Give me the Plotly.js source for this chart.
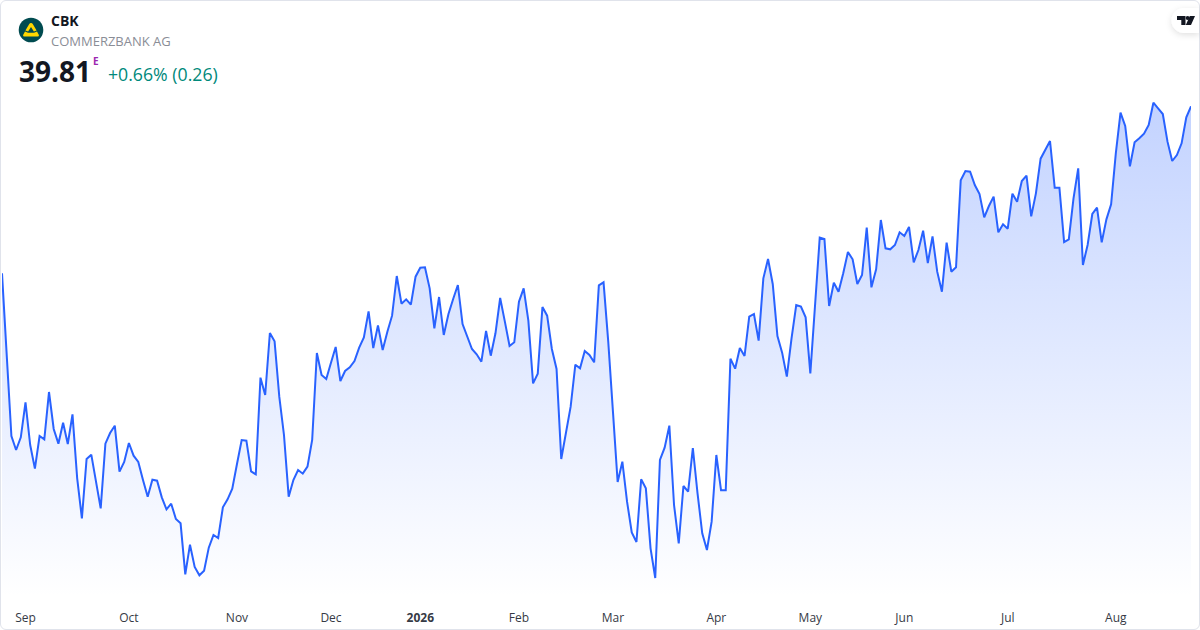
<!DOCTYPE html>
<html>
<head>
<meta charset="utf-8">
<script src="https://cdn.plot.ly/plotly-3.0.1.min.js"></script>
<style>
html,body{margin:0;padding:0;background:#fff;width:1200px;height:630px;overflow:hidden}
#card{position:absolute;left:0;top:0;width:1198px;height:628px;border:1px solid #e0e3eb;border-radius:6px;overflow:hidden}
#chart{position:absolute;left:0;top:0;width:1200px;height:630px}
svg.deco{position:absolute;left:0;top:0;pointer-events:none}
</style>
</head>
<body>
<div id="card"></div>
<div id="chart"></div>
<svg class="deco" width="1200" height="630" xmlns="http://www.w3.org/2000/svg">
  <defs><filter id="sh" x="-40%" y="-40%" width="180%" height="200%"><feDropShadow dx="0" dy="2" stdDeviation="3" flood-color="#000" flood-opacity="0.12"/></filter></defs>
  <circle cx="31" cy="30" r="12.3" fill="#004B50"/>
  <path d="M31 23 Q32.2 23 32.9 24.2 L36.6 30.4 L33.9 31.5 L31 27 L28.1 31.5 L25.4 30.4 L29.1 24.2 Q29.8 23 31 23 Z" fill="#FFD700"/>
  <path d="M25 31.5 L28 32.7 L34 32.7 L37 31.5 L38.9 34.9 Q39.3 36.6 37.6 36.6 L24.4 36.6 Q22.7 36.6 23.1 34.9 Z" fill="#FFD700"/>
  <path d="M1199 8 L1184 8 A12.5 12.5 0 0 0 1184 33 L1199 33 Z" fill="#fff" filter="url(#sh)"/>
  <path d="M1177 16 H1185.5 V25 H1181.3 V20 H1177 Z M1189.8 16 H1195 L1191 25 H1185.8 Z" fill="#131722"/>
  <circle cx="1187.6" cy="18" r="2" fill="#131722"/>
</svg>
<script>
const sessionIndex = Array.from({length: 254}, (_, i) => i);
const closeA = [34.80,32.30,29.92,29.50,29.88,30.93,29.65,28.94,29.92,29.82,31.24,30.13,29.69,30.32,29.68,30.57,28.65,27.45,29.23,29.36,28.55,27.75,29.69,30.01,30.23,28.85,29.14,29.71,29.33,29.14,28.60,28.10,28.61,28.58,28.08,27.72,27.89,27.43,27.30,25.77,26.66,25.99,25.74,25.88,26.57,26.95,26.86,27.78,28.02,28.34,29.08,29.80,29.78,28.86,28.77,31.67,31.15,33.01,32.76,31.10,29.95,28.10,28.60,28.90];
const closeB = [28.79,29.00,29.80,32.41,31.75,31.63,32.12,32.59,31.57,31.87,31.98,32.17,32.57,32.88,33.66,32.56,33.24,32.50,33.05,33.53,34.72,33.89,34.02,33.86,34.70,34.97,34.98,34.35,33.15,34.09,32.95,33.58,34.03,34.45,33.28,32.88,32.53,32.37,32.15,33.07,32.33,33.00,34.06,33.35,32.62,32.73,33.95,34.35,33.38,31.50,31.79,33.79,33.53,32.53,31.93,29.23,30.00,30.80,32.06,31.95,32.47,32.35,32.13,34.44];
const closeC = [34.53,32.75,30.65,28.54,29.15,27.95,27.03,26.74,28.62,28.35,26.55,25.66,29.20,29.57,30.23,27.85,26.70,28.42,28.25,29.56,28.20,27.00,26.50,27.35,29.35,28.29,28.29,32.24,31.94,32.56,32.32,33.50,33.58,32.78,34.65,35.23,34.48,32.92,32.42,31.70,32.85,33.85,33.80,33.48,31.80,33.70,35.87,35.83,33.82,34.52,34.25,34.80,35.44,35.22,34.48,34.75,36.17,34.38,34.92,36.40];
const closeD = [35.55,35.52,35.65,36.03,35.92,36.19,35.13,35.50,36.08,35.11,35.91,34.85,34.25,35.72,34.85,34.98,37.59,37.87,37.85,37.45,37.18,36.48,36.82,37.10,36.03,36.27,36.14,37.19,36.95,37.57,37.73,36.51,37.20,38.24,38.52,38.77,37.37,37.37,35.74,35.82,37.05,37.95,35.05,35.65,36.58,36.77,35.73,36.42,36.87,38.40,39.62,39.22,38.01,38.73,38.85,38.99,39.25,39.92,39.75,39.58,38.75,38.17,38.35,38.70,39.48,39.81];
const closes = [...closeA, ...closeB, ...closeC, ...closeD];
const tickSessions = [5,27,50,70,89,110,130,152,172,192,214,237];
const tickLabels = ['Sep','Oct','Nov','Dec','<b>2026</b>','Feb','Mar','Apr','May','Jun','Jul','Aug'];
const symbol = 'CBK', company = 'COMMERZBANK AG', lastPrice = '39.81', session = 'E', change = '+0.66% (0.26)';

const W = 1200, H = 630, mL = 2.3, mR = 8.6, mT = 0, mB = 33;
const px = x => (x - mL) / (W - mL - mR);
const py = y => 1 - (y - mT) / (H - mT - mB);
const note = (x, y, text, size, color, family, weight) => ({
  xref:'paper', yref:'paper', x:px(x), y:py(y), text, showarrow:false,
  xanchor:'left', yanchor:'middle', align:'left', borderpad:0,
  font:{size, color, family, weight}
});
const ff = '"Open Sans","Noto Sans",sans-serif';

Plotly.newPlot('chart', [{
  x: sessionIndex, y: closes, type:'scatter', mode:'lines',
  line:{color:'#2962FF', width:2, shape:'linear'},
  fill:'tozeroy',
  fillgradient:{type:'vertical', start:25.09, stop:39.92, colorscale:[[0,'rgba(41,98,255,0)'],[1,'rgba(41,98,255,0.28)']]},
  hoverinfo:'skip', showlegend:false
}], {
  width:W, height:H,
  margin:{l:mL, r:mR, t:mT, b:mB, pad:0},
  paper_bgcolor:'rgba(0,0,0,0)', plot_bgcolor:'rgba(0,0,0,0)',
  showlegend:false,
  xaxis:{type:'linear', range:[0,253], tickmode:'array', tickvals:tickSessions, ticktext:tickLabels,
    showgrid:false, zeroline:false, showline:false, ticks:'outside', ticklen:10, tickcolor:'rgba(0,0,0,0)',
    tickangle:0, tickfont:{family:ff, size:12, color:'#363a45'}, automargin:false},
  yaxis:{range:[25.09,43], visible:false, fixedrange:true},
  annotations:[
    note(50,20.5,symbol,14,'#131722',ff,700),
    note(50,40.5,company,13,'#8a8d96',ff,400),
    note(18,71,lastPrice,28,'#131722',ff,700),
    note(92,61,session,10,'#9c27b0',ff,700),
    note(107,74,change,17.7,'#00897b',ff,400)
  ]
}, {staticPlot:true, displayModeBar:false});
</script>
</body>
</html>
